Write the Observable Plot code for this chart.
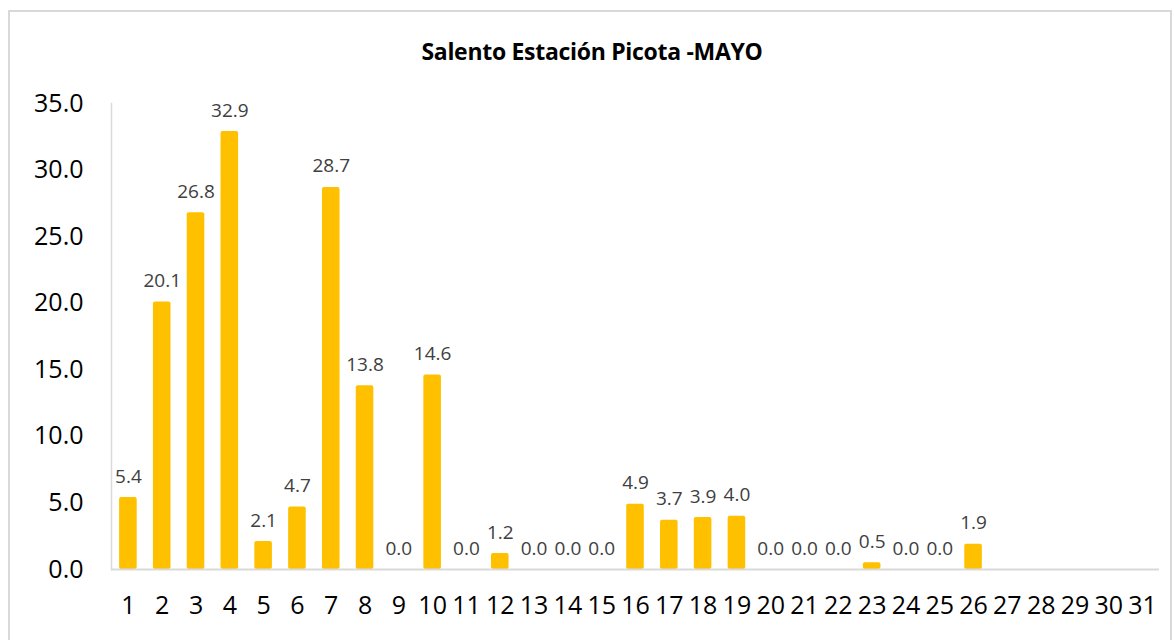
<!DOCTYPE html>
<html>
<head>
<meta charset="utf-8">
<script src="https://cdn.jsdelivr.net/npm/d3@7"></script>
<script src="https://cdn.jsdelivr.net/npm/@observablehq/plot@0.6"></script>
<style>
  html, body { margin: 0; padding: 0; background: #fff; }
  body { width: 1174px; height: 640px; position: relative; overflow: hidden; font-family: "Open Sans", sans-serif; }
  #frame { position: absolute; left: 8px; top: 10px; width: 1164px; height: 640px; border: 2px solid #d9d9d9; border-bottom: none; box-sizing: border-box; }
  #title { position: absolute; left: 0; top: 35px; width: 1184px; text-align: center; font-size: 23px; font-weight: bold; color: #000; letter-spacing: -0.3px; }
  #chart { position: absolute; left: 0; top: 85px; }
</style>
</head>
<body>
<div id="frame"></div>
<div id="title">Salento Estación Picota -MAYO</div>
<div id="chart"></div>
<script>
const days = ["1","2","3","4","5","6","7","8","9","10","11","12","13","14","15","16","17","18","19","20","21","22","23","24","25","26","27","28","29","30","31"];
const rainfall = [5.4, 20.1, 26.8, 32.9, 2.1, 4.7, 28.7, 13.8, 0.0, 14.6, 0.0, 1.2, 0.0, 0.0, 0.0, 4.9, 3.7, 3.9, 4.0, 0.0, 0.0, 0.0, 0.5, 0.0, 0.0, 1.9, null, null, null, null, null];
const yTicks = [0, 5, 10, 15, 20, 25, 30, 35];

const data = days.map((d, i) => ({day: d, value: rainfall[i]}));
const labeled = data.filter(d => d.value != null);

const chart = Plot.plot({
  width: 1174,
  height: 555,
  marginTop: 18,
  marginBottom: 71,
  marginLeft: 111,
  marginRight: 15,
  style: {fontFamily: "Open Sans, sans-serif", background: "transparent"},
  x: {type: "band", domain: days, paddingInner: 0.48, paddingOuter: 0.24, round: false, label: null},
  y: {domain: [0, 35], label: null},
  marks: [
    Plot.frame({anchor: "left", stroke: "#d9d9d9", strokeWidth: 1.5, strokeOpacity: 1}),
    Plot.barY(data.filter(d => d.value != null && d.value > 0), {x: "day", y: "value", fill: "#FFC000", rx: 2}),
    Plot.ruleY([0], {stroke: "#d9d9d9", strokeWidth: 2}),
    Plot.text(labeled, {x: "day", y: "value", text: d => d.value.toFixed(1), dy: -21, fontSize: 19, fill: "#404040"}),
    Plot.axisY({ticks: yTicks, tickSize: 0, tickPadding: 28, tickFormat: d => d.toFixed(1), fontSize: 25, fill: "#000"}),
    Plot.axisX({tickSize: 0, tickPadding: 27, fontSize: 25, fill: "#000"})
  ]
});
document.getElementById("chart").appendChild(chart);
</script>
</body>
</html>
